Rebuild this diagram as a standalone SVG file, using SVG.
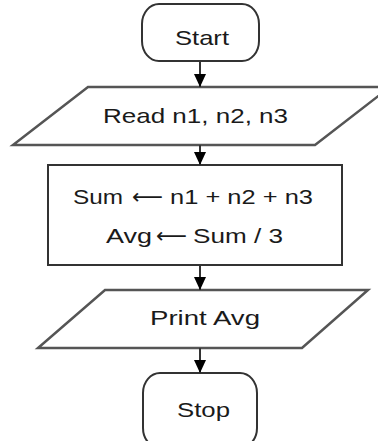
<svg xmlns="http://www.w3.org/2000/svg" width="378" height="441" viewBox="0 0 378 441">
<style>
.shape{fill:#fff;stroke:#333;stroke-width:2}
.para{fill:#fff;stroke:#555;stroke-width:2.5}
.lbl{font-family:"Liberation Sans",Arial,sans-serif;font-size:21px;fill:#1a1a1a;text-anchor:start}
.arr{font-family:"DejaVu Sans",sans-serif;font-size:21px;fill:#1a1a1a;text-anchor:start}
.conn{stroke:#333;stroke-width:2;fill:none}
</style>
<defs>
<marker id="ah" markerUnits="userSpaceOnUse" markerWidth="14" markerHeight="16" refX="13" refY="7" orient="auto">
<path d="M0,1 L13,7 L0,13 Z" fill="#000"/>
</marker>
</defs>
<rect width="378" height="441" fill="#fff"/>
<g id="start">
<rect class="shape" x="142" y="4" width="117" height="57" rx="17" ry="20"/>
<text class="lbl" x="175" y="45" textLength="54" lengthAdjust="spacingAndGlyphs">Start</text>
</g>
<g id="read">
<polygon class="para" points="88,87 390,87 315,145 13,145"/>
<text class="lbl" x="103" y="123" textLength="185" lengthAdjust="spacingAndGlyphs">Read n1, n2, n3</text>
</g>
<g id="process">
<rect class="shape" x="48" y="165" width="294" height="100"/>
<text class="lbl" x="73" y="204" textLength="50" lengthAdjust="spacingAndGlyphs">Sum</text>
<text class="arr" x="132" y="204" textLength="31" lengthAdjust="spacingAndGlyphs">⟵</text>
<text class="lbl" x="170" y="204" textLength="143" lengthAdjust="spacingAndGlyphs">n1 + n2 + n3</text>
<text class="lbl" x="106" y="243" textLength="46" lengthAdjust="spacingAndGlyphs">Avg</text>
<text class="arr" x="156" y="243" textLength="31" lengthAdjust="spacingAndGlyphs">⟵</text>
<text class="lbl" x="193" y="243" textLength="90" lengthAdjust="spacingAndGlyphs">Sum / 3</text>
</g>
<g id="print">
<polygon class="para" points="105,290 368,290 302,348 38,348"/>
<text class="lbl" x="150" y="325" textLength="110" lengthAdjust="spacingAndGlyphs">Print Avg</text>
</g>
<g id="stop">
<rect class="shape" x="143" y="373" width="114" height="75" rx="17" ry="20"/>
<text class="lbl" x="177" y="417" textLength="53" lengthAdjust="spacingAndGlyphs">Stop</text>
</g>
<g id="connectors">
<line class="conn" x1="200" y1="61" x2="200" y2="87" marker-end="url(#ah)"/>
<line class="conn" x1="200" y1="145" x2="200" y2="165" marker-end="url(#ah)"/>
<line class="conn" x1="200" y1="265" x2="200" y2="290" marker-end="url(#ah)"/>
<line class="conn" x1="200" y1="348" x2="200" y2="373" marker-end="url(#ah)"/>
</g>
</svg>
